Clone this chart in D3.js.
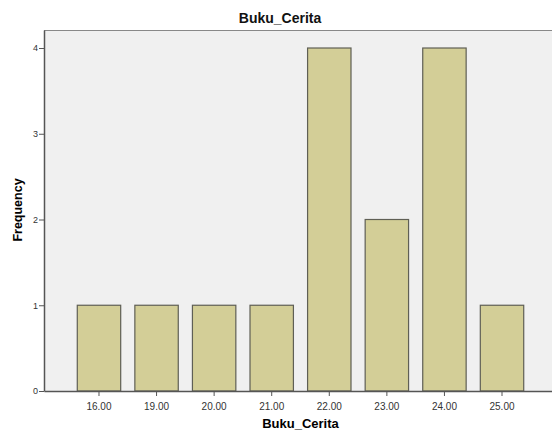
<!DOCTYPE html>
<html>
<head>
<meta charset="utf-8">
<script src="https://cdn.jsdelivr.net/npm/d3@7"></script>
<style>
  body { margin: 0; background: #fff; }
  svg { display: block; font-family: "Liberation Sans", Arial, sans-serif; }
</style>
</head>
<body>
<svg width="552" height="430"></svg>
<script>
const categories = ['16.00', '19.00', '20.00', '21.00', '22.00', '23.00', '24.00', '25.00']
const frequency = [1, 1, 1, 1, 4, 2, 4, 1]
const yTicks = [0, 1, 2, 3, 4]

const data = categories.map((c, i) => ({cat: c, freq: frequency[i]}))

const svg = d3.select('svg'),
    margin = {top: 30, right: -5, bottom: 39, left: 44},
    width = svg.attr('width') - margin.left - margin.right,
    height = svg.attr('height') - margin.top - margin.bottom,
    x = d3.scaleBand().range([0, width]).paddingInner(0.246).paddingOuter(0.578),
    y = d3.scaleLinear().range([height, 0]),
    g = svg.append('g')
        .attr('transform', `translate(${margin.left}, ${margin.top})`)

x.domain(categories)
y.domain([0, 4.21])

// plot background
g.append('rect')
    .attr('width', width)
    .attr('height', height)
    .attr('fill', '#f0f0f0')

// top frame line
g.append('line')
    .attr('x1', 0).attr('x2', width)
    .attr('y1', 0.5).attr('y2', 0.5)
    .attr('stroke', '#888')
    .attr('stroke-width', 1)

// bars
g.selectAll('.bar')
    .data(data)
    .enter().append('rect')
    .attr('class', 'bar')
    .attr('x', d => x(d.cat))
    .attr('y', d => y(d.freq))
    .attr('width', x.bandwidth())
    .attr('height', d => height - y(d.freq))
    .attr('fill', '#d3ce97')
    .attr('stroke', '#5f5f55')
    .attr('stroke-width', 1.2)

// x-axis
const xAxis = g.append('g')
    .attr('class', 'axis axis-x')
    .attr('transform', `translate(0, ${height})`)
    .call(d3.axisBottom(x).tickSize(5).tickSizeOuter(0))
xAxis.select('.domain').attr('stroke', '#555').attr('stroke-width', 1.5)
xAxis.selectAll('.tick line').attr('stroke', '#555')
xAxis.selectAll('.tick text')
    .attr('fill', '#333')
    .attr('font-size', 10)
    .attr('dy', '1.05em')

// y-axis
const yAxis = g.append('g')
    .attr('class', 'axis axis-y')
    .call(d3.axisLeft(y).tickValues(yTicks).tickFormat(d3.format('d')).tickSize(5).tickSizeOuter(0))
yAxis.select('.domain').attr('stroke', '#555').attr('stroke-width', 1.5)
yAxis.selectAll('.tick line').attr('stroke', '#555')
yAxis.selectAll('.tick text')
    .attr('fill', '#333')
    .attr('font-size', 9)
    .attr('x', -6)

// titles
svg.append('text')
    .attr('x', 280)
    .attr('y', 23)
    .attr('text-anchor', 'middle')
    .attr('font-size', 14)
    .attr('font-weight', 'bold')
    .attr('fill', '#111')
    .text('Buku_Cerita')

svg.append('text')
    .attr('x', 300.5)
    .attr('y', 427.5)
    .attr('text-anchor', 'middle')
    .attr('font-size', 13)
    .attr('font-weight', 'bold')
    .text('Buku_Cerita')

svg.append('text')
    .attr('transform', 'translate(22, 210) rotate(-90)')
    .attr('text-anchor', 'middle')
    .attr('font-size', 12.5)
    .attr('font-weight', 'bold')
    .text('Frequency')
</script>
</body>
</html>
